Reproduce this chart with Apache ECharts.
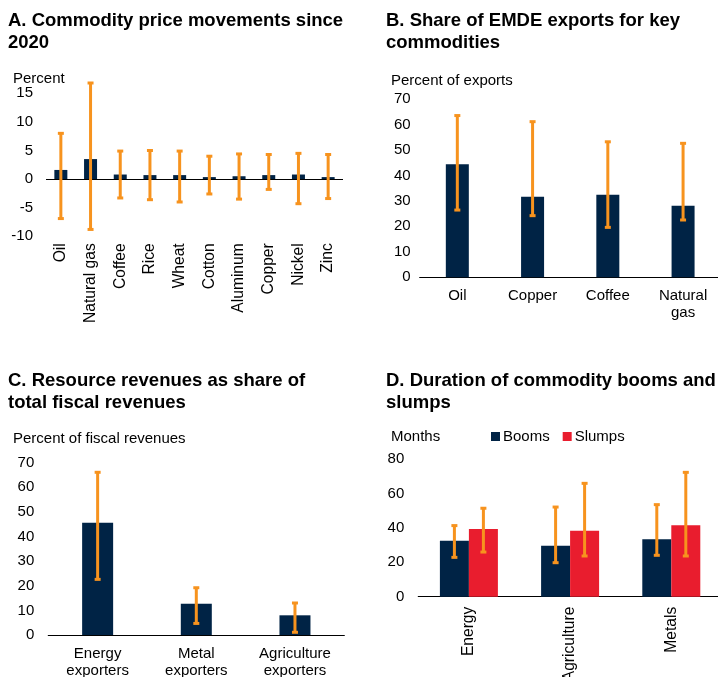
<!DOCTYPE html>
<html>
<head>
<meta charset="utf-8">
<script src="https://cdn.jsdelivr.net/npm/echarts@6/dist/echarts.min.js"></script>
<style>
html,body{margin:0;padding:0;background:#fff;}
#chart{width:718px;height:677px;}
</style>
</head>
<body>
<div id="chart"></div>
<script>
// Panel A: commodity price movements since 2020
const catsA = ['Oil','Natural gas','Coffee','Rice','Wheat','Cotton','Aluminum','Copper','Nickel','Zinc'];
const medianA = [1.6, 3.5, 0.8, 0.7, 0.7, 0.35, 0.5, 0.7, 0.8, 0.35];
const highA = [8.0, 16.8, 4.9, 5.0, 4.9, 4.0, 4.4, 4.3, 4.5, 4.3];
const lowA = [-6.9, -8.8, -3.3, -3.6, -4.0, -2.6, -3.5, -1.8, -4.3, -3.4];

// Panel B: share of EMDE exports
const catsB = ['Oil','Copper','Coffee','Natural\ngas'];
const medianB = [44.4, 31.6, 32.4, 28.1];
const highB = [63.5, 61.1, 53.2, 52.6];
const lowB = [26.4, 24.2, 19.6, 22.5];

// Panel C: resource revenues share
const catsC = ['Energy\nexporters','Metal\nexporters','Agriculture\nexporters'];
const medianC = [45.6, 12.7, 8.0];
const highC = [66.1, 19.2, 13.0];
const lowC = [22.6, 4.7, 1.1];

// Panel D: duration of booms and slumps
const catsD = ['Energy','Agriculture','Metals'];
const booms = [32.6, 29.7, 33.4];
const boomsHigh = [41.4, 52.2, 53.6];
const boomsLow = [22.9, 19.8, 24.1];
const slumps = [39.4, 38.4, 41.6];
const slumpsHigh = [51.5, 66.0, 72.4];
const slumpsLow = [26.0, 23.7, 23.7];

const NAVY = '#002345';
const RED = '#E91D2E';
const ORANGE = '#F7931E';
const FONT = '"Liberation Sans", Arial, sans-serif';

function errSeries(idx, low, high, offset) {
  return {
    type: 'custom', xAxisIndex: idx, yAxisIndex: idx, clip: false, z: 5,
    silent: true,
    data: low.map((l, i) => [i, l, high[i]]),
    encode: { x: 0, y: [1, 2] },
    renderItem: function (params, api) {
      const i = api.value(0);
      const p1 = api.coord([i, api.value(1)]);
      const p2 = api.coord([i, api.value(2)]);
      const x = p1[0] + offset;
      return {
        type: 'group',
        children: [
          { type: 'line', shape: { x1: x, y1: p1[1], x2: x, y2: p2[1] }, style: { stroke: ORANGE, lineWidth: 3 } },
          { type: 'rect', shape: { x: x - 3, y: p1[1] - 1.5, width: 6, height: 3 }, style: { fill: ORANGE } },
          { type: 'rect', shape: { x: x - 3, y: p2[1] - 1.5, width: 6, height: 3 }, style: { fill: ORANGE } }
        ]
      };
    }
  };
}

function yAx(idx, min, max, interval, margin) {
  return {
    type: 'value', gridIndex: idx, min: min, max: max, interval: interval,
    axisLine: { show: false }, axisTick: { show: false }, splitLine: { show: false },
    axisLabel: { color: '#000', fontSize: 15, fontFamily: FONT, margin: margin }
  };
}

function xAx(idx, cats, opts) {
  return Object.assign({
    type: 'category', gridIndex: idx, data: cats,
    axisLine: { show: true, onZero: false, lineStyle: { color: '#000', width: 1.2 } },
    axisTick: { show: false },
    axisLabel: { color: '#000', fontSize: 15, fontFamily: FONT, interval: 0, lineHeight: 17, margin: 10 }
  }, opts || {});
}

const titleStyle = { color: '#000', fontSize: 18.5, fontWeight: 'bold', fontFamily: FONT, lineHeight: 22 };

const option = {
  animation: false,
  backgroundColor: '#fff',
  title: [
    { text: 'A. Commodity price movements since\n2020', left: 8, top: 10, padding: 0, textStyle: titleStyle },
    { text: 'B. Share of EMDE exports for key\ncommodities', left: 386, top: 10, padding: 0, textStyle: titleStyle },
    { text: 'C. Resource revenues as share of\ntotal fiscal revenues', left: 8, top: 370, padding: 0, textStyle: titleStyle },
    { text: 'D. Duration of commodity booms and\nslumps', left: 386, top: 370, padding: 0, textStyle: titleStyle }
  ],
  graphic: [
    { type: 'text', left: 13, top: 71, style: { text: 'Percent', fill: '#000', font: '15px ' + FONT } },
    { type: 'text', left: 391, top: 73, style: { text: 'Percent of exports', fill: '#000', font: '15px ' + FONT } },
    { type: 'text', left: 13, top: 431, style: { text: 'Percent of fiscal revenues', fill: '#000', font: '15px ' + FONT } },
    { type: 'text', left: 391, top: 429, style: { text: 'Months', fill: '#000', font: '15px ' + FONT } }
  ],
  legend: {
    data: ['Booms', 'Slumps'], left: 491, top: 429, padding: 0,
    itemWidth: 9, itemHeight: 9, itemGap: 13, icon: 'rect',
    textStyle: { color: '#000', fontSize: 15, fontFamily: FONT, padding: [0, 0, 0, -2] }
  },
  grid: [
    { left: 46, top: 93.3, width: 297, height: 143, outerBoundsMode: 'none', containLabel: false },
    { left: 419.7, top: 99, width: 301, height: 178.3, outerBoundsMode: 'none', containLabel: false },
    { left: 48.3, top: 462.7, width: 296, height: 172.3, outerBoundsMode: 'none', containLabel: false },
    { left: 418.3, top: 459.3, width: 303.6, height: 137.4, outerBoundsMode: 'none', containLabel: false }
  ],
  xAxis: [
    xAx(0, catsA, { axisLine: { show: false }, axisLabel: { color: '#000', fontSize: 15.6, fontFamily: FONT, interval: 0, rotate: 90, margin: 7 } }),
    xAx(1, catsB),
    xAx(2, catsC),
    xAx(3, catsD, { axisLabel: { color: '#000', fontSize: 15.6, fontFamily: FONT, interval: 0, rotate: 90, margin: 10 } })
  ],
  yAxis: [
    yAx(0, -10, 15, 5, 13),
    yAx(1, 0, 70, 10, 9),
    yAx(2, 0, 70, 10, 14),
    yAx(3, 0, 80, 20, 14)
  ],
  series: [
    {
      type: 'bar', xAxisIndex: 0, yAxisIndex: 0, data: medianA, barWidth: 13,
      itemStyle: { color: NAVY },
      markLine: {
        silent: true, symbol: 'none', label: { show: false },
        lineStyle: { color: '#000', width: 1.2, type: 'solid' },
        data: [{ yAxis: 0 }]
      }
    },
    errSeries(0, lowA, highA, 0),
    { type: 'bar', xAxisIndex: 1, yAxisIndex: 1, data: medianB, barWidth: 23, itemStyle: { color: NAVY } },
    errSeries(1, lowB, highB, 0),
    { type: 'bar', xAxisIndex: 2, yAxisIndex: 2, data: medianC, barWidth: 31, itemStyle: { color: NAVY } },
    errSeries(2, lowC, highC, 0),
    { name: 'Booms', type: 'bar', xAxisIndex: 3, yAxisIndex: 3, data: booms, barWidth: 29, barGap: '0%', itemStyle: { color: NAVY } },
    { name: 'Slumps', type: 'bar', xAxisIndex: 3, yAxisIndex: 3, data: slumps, barWidth: 29, barGap: '0%', itemStyle: { color: RED } },
    errSeries(3, boomsLow, boomsHigh, -14.5),
    errSeries(3, slumpsLow, slumpsHigh, 14.5)
  ]
};

const chart = echarts.init(document.getElementById('chart'), null, { renderer: 'canvas' });
chart.setOption(option);
</script>
</body>
</html>
